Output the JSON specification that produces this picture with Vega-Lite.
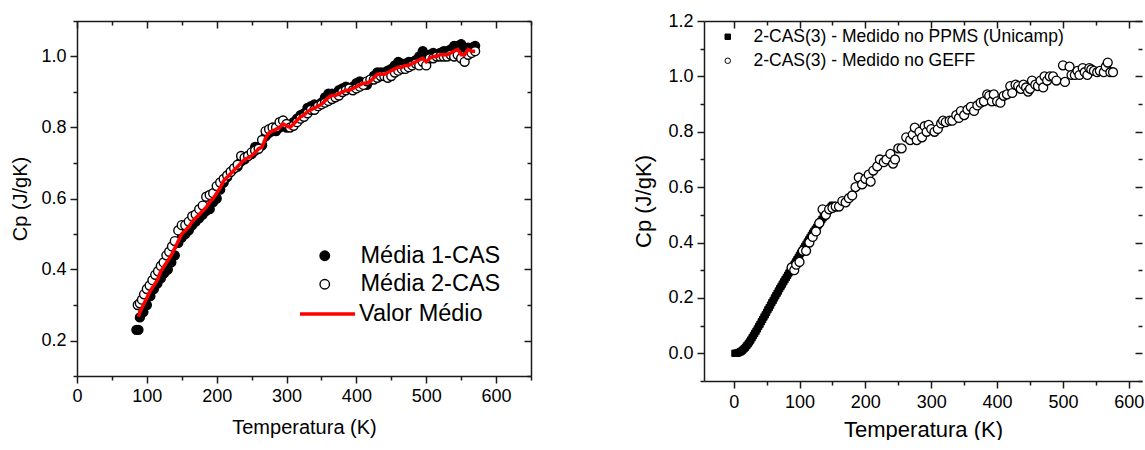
{
  "$schema": "https://vega.github.io/schema/vega-lite/v6.json",
  "padding": {"left": 10, "top": 12, "right": 0, "bottom": 0},
  "background": "white",
  "config": {
    "view": {"stroke": null},
    "font": "Liberation Sans",
    "axis": {"domainColor": "#1a1a1a", "tickColor": "#1a1a1a", "domainWidth": 1.5, "tickWidth": 1.5, "labelColor": "black", "titleColor": "black", "titleFontWeight": "normal", "grid": false, "labelFont": "Liberation Sans", "titleFont": "Liberation Sans", "labelFlush": false, "labelOverlap": false},
    "legend": {"labelFont": "Liberation Sans", "labelColor": "black"}
  },
  "datasets": {
    "m1": [
      {"s":"Média 1-CAS","T":85,"Cp":0.23},{"s":"Média 1-CAS","T":88,"Cp":0.23},{"s":"Média 1-CAS","T":90,"Cp":0.265},{"s":"Média 1-CAS","T":95,"Cp":0.28},{"s":"Média 1-CAS","T":100,"Cp":0.30},{"s":"Média 1-CAS","T":105,"Cp":0.325},{"s":"Média 1-CAS","T":110,"Cp":0.345},{"s":"Média 1-CAS","T":115,"Cp":0.36},{"s":"Média 1-CAS","T":120,"Cp":0.375},{"s":"Média 1-CAS","T":125,"Cp":0.39},{"s":"Média 1-CAS","T":130,"Cp":0.40},{"s":"Média 1-CAS","T":135,"Cp":0.42},{"s":"Média 1-CAS","T":140,"Cp":0.44},{"s":"Média 1-CAS","T":145,"Cp":0.475},{"s":"Média 1-CAS","T":150,"Cp":0.49},{"s":"Média 1-CAS","T":155,"Cp":0.50},{"s":"Média 1-CAS","T":160,"Cp":0.51},{"s":"Média 1-CAS","T":165,"Cp":0.525},{"s":"Média 1-CAS","T":170,"Cp":0.535},{"s":"Média 1-CAS","T":175,"Cp":0.545},{"s":"Média 1-CAS","T":180,"Cp":0.555},{"s":"Média 1-CAS","T":185,"Cp":0.565},{"s":"Média 1-CAS","T":190,"Cp":0.57},{"s":"Média 1-CAS","T":195,"Cp":0.59},{"s":"Média 1-CAS","T":200,"Cp":0.60},{"s":"Média 1-CAS","T":205,"Cp":0.625},{"s":"Média 1-CAS","T":210,"Cp":0.645},{"s":"Média 1-CAS","T":215,"Cp":0.66},{"s":"Média 1-CAS","T":220,"Cp":0.675},{"s":"Média 1-CAS","T":225,"Cp":0.685},{"s":"Média 1-CAS","T":230,"Cp":0.69},{"s":"Média 1-CAS","T":235,"Cp":0.705},{"s":"Média 1-CAS","T":240,"Cp":0.71},{"s":"Média 1-CAS","T":245,"Cp":0.72},{"s":"Média 1-CAS","T":250,"Cp":0.725},{"s":"Média 1-CAS","T":255,"Cp":0.745},{"s":"Média 1-CAS","T":260,"Cp":0.745},{"s":"Média 1-CAS","T":265,"Cp":0.75},{"s":"Média 1-CAS","T":270,"Cp":0.775},{"s":"Média 1-CAS","T":275,"Cp":0.785},{"s":"Média 1-CAS","T":280,"Cp":0.79},{"s":"Média 1-CAS","T":285,"Cp":0.79},{"s":"Média 1-CAS","T":290,"Cp":0.80},{"s":"Média 1-CAS","T":295,"Cp":0.805},{"s":"Média 1-CAS","T":300,"Cp":0.80},{"s":"Média 1-CAS","T":305,"Cp":0.805},{"s":"Média 1-CAS","T":310,"Cp":0.815},{"s":"Média 1-CAS","T":315,"Cp":0.825},{"s":"Média 1-CAS","T":320,"Cp":0.835},{"s":"Média 1-CAS","T":325,"Cp":0.84},{"s":"Média 1-CAS","T":330,"Cp":0.855},{"s":"Média 1-CAS","T":335,"Cp":0.86},{"s":"Média 1-CAS","T":340,"Cp":0.865},{"s":"Média 1-CAS","T":345,"Cp":0.86},{"s":"Média 1-CAS","T":350,"Cp":0.87},{"s":"Média 1-CAS","T":355,"Cp":0.885},{"s":"Média 1-CAS","T":360,"Cp":0.895},{"s":"Média 1-CAS","T":365,"Cp":0.895},{"s":"Média 1-CAS","T":370,"Cp":0.895},{"s":"Média 1-CAS","T":375,"Cp":0.905},{"s":"Média 1-CAS","T":380,"Cp":0.91},{"s":"Média 1-CAS","T":385,"Cp":0.915},{"s":"Média 1-CAS","T":390,"Cp":0.91},{"s":"Média 1-CAS","T":395,"Cp":0.915},{"s":"Média 1-CAS","T":400,"Cp":0.925},{"s":"Média 1-CAS","T":405,"Cp":0.93},{"s":"Média 1-CAS","T":410,"Cp":0.925},{"s":"Média 1-CAS","T":415,"Cp":0.92},{"s":"Média 1-CAS","T":420,"Cp":0.935},{"s":"Média 1-CAS","T":425,"Cp":0.945},{"s":"Média 1-CAS","T":430,"Cp":0.955},{"s":"Média 1-CAS","T":435,"Cp":0.955},{"s":"Média 1-CAS","T":440,"Cp":0.955},{"s":"Média 1-CAS","T":445,"Cp":0.96},{"s":"Média 1-CAS","T":450,"Cp":0.965},{"s":"Média 1-CAS","T":455,"Cp":0.975},{"s":"Média 1-CAS","T":460,"Cp":0.985},{"s":"Média 1-CAS","T":465,"Cp":0.98},{"s":"Média 1-CAS","T":470,"Cp":0.98},{"s":"Média 1-CAS","T":475,"Cp":0.985},{"s":"Média 1-CAS","T":480,"Cp":0.985},{"s":"Média 1-CAS","T":485,"Cp":0.99},{"s":"Média 1-CAS","T":490,"Cp":1.0},{"s":"Média 1-CAS","T":495,"Cp":1.015},{"s":"Média 1-CAS","T":500,"Cp":1.0},{"s":"Média 1-CAS","T":505,"Cp":1.005},{"s":"Média 1-CAS","T":510,"Cp":1.01},{"s":"Média 1-CAS","T":515,"Cp":1.005},{"s":"Média 1-CAS","T":520,"Cp":1.01},{"s":"Média 1-CAS","T":525,"Cp":1.015},{"s":"Média 1-CAS","T":530,"Cp":1.015},{"s":"Média 1-CAS","T":535,"Cp":1.02},{"s":"Média 1-CAS","T":540,"Cp":1.03},{"s":"Média 1-CAS","T":545,"Cp":1.03},{"s":"Média 1-CAS","T":550,"Cp":1.035},{"s":"Média 1-CAS","T":555,"Cp":1.025},{"s":"Média 1-CAS","T":560,"Cp":1.025},{"s":"Média 1-CAS","T":565,"Cp":1.025},{"s":"Média 1-CAS","T":570,"Cp":1.03}
    ],
    "m2": [
      {"s":"Média 2-CAS","T":87,"Cp":0.30},{"s":"Média 2-CAS","T":90,"Cp":0.305},{"s":"Média 2-CAS","T":93,"Cp":0.315},{"s":"Média 2-CAS","T":96,"Cp":0.33},{"s":"Média 2-CAS","T":100,"Cp":0.345},{"s":"Média 2-CAS","T":104,"Cp":0.355},{"s":"Média 2-CAS","T":108,"Cp":0.37},{"s":"Média 2-CAS","T":112,"Cp":0.385},{"s":"Média 2-CAS","T":116,"Cp":0.395},{"s":"Média 2-CAS","T":120,"Cp":0.41},{"s":"Média 2-CAS","T":124,"Cp":0.42},{"s":"Média 2-CAS","T":128,"Cp":0.44},{"s":"Média 2-CAS","T":132,"Cp":0.45},{"s":"Média 2-CAS","T":136,"Cp":0.465},{"s":"Média 2-CAS","T":140,"Cp":0.48},{"s":"Média 2-CAS","T":145,"Cp":0.51},{"s":"Média 2-CAS","T":150,"Cp":0.525},{"s":"Média 2-CAS","T":155,"Cp":0.525},{"s":"Média 2-CAS","T":160,"Cp":0.535},{"s":"Média 2-CAS","T":165,"Cp":0.55},{"s":"Média 2-CAS","T":170,"Cp":0.555},{"s":"Média 2-CAS","T":175,"Cp":0.57},{"s":"Média 2-CAS","T":180,"Cp":0.58},{"s":"Média 2-CAS","T":185,"Cp":0.605},{"s":"Média 2-CAS","T":190,"Cp":0.61},{"s":"Média 2-CAS","T":195,"Cp":0.615},{"s":"Média 2-CAS","T":200,"Cp":0.635},{"s":"Média 2-CAS","T":205,"Cp":0.645},{"s":"Média 2-CAS","T":210,"Cp":0.655},{"s":"Média 2-CAS","T":215,"Cp":0.665},{"s":"Média 2-CAS","T":220,"Cp":0.675},{"s":"Média 2-CAS","T":225,"Cp":0.685},{"s":"Média 2-CAS","T":230,"Cp":0.695},{"s":"Média 2-CAS","T":235,"Cp":0.72},{"s":"Média 2-CAS","T":240,"Cp":0.715},{"s":"Média 2-CAS","T":245,"Cp":0.72},{"s":"Média 2-CAS","T":250,"Cp":0.73},{"s":"Média 2-CAS","T":255,"Cp":0.735},{"s":"Média 2-CAS","T":260,"Cp":0.74},{"s":"Média 2-CAS","T":265,"Cp":0.765},{"s":"Média 2-CAS","T":270,"Cp":0.79},{"s":"Média 2-CAS","T":275,"Cp":0.795},{"s":"Média 2-CAS","T":280,"Cp":0.80},{"s":"Média 2-CAS","T":285,"Cp":0.80},{"s":"Média 2-CAS","T":290,"Cp":0.815},{"s":"Média 2-CAS","T":295,"Cp":0.82},{"s":"Média 2-CAS","T":300,"Cp":0.81},{"s":"Média 2-CAS","T":305,"Cp":0.80},{"s":"Média 2-CAS","T":310,"Cp":0.805},{"s":"Média 2-CAS","T":315,"Cp":0.815},{"s":"Média 2-CAS","T":320,"Cp":0.825},{"s":"Média 2-CAS","T":325,"Cp":0.83},{"s":"Média 2-CAS","T":330,"Cp":0.84},{"s":"Média 2-CAS","T":335,"Cp":0.85},{"s":"Média 2-CAS","T":340,"Cp":0.85},{"s":"Média 2-CAS","T":345,"Cp":0.86},{"s":"Média 2-CAS","T":350,"Cp":0.865},{"s":"Média 2-CAS","T":355,"Cp":0.87},{"s":"Média 2-CAS","T":360,"Cp":0.875},{"s":"Média 2-CAS","T":365,"Cp":0.88},{"s":"Média 2-CAS","T":370,"Cp":0.885},{"s":"Média 2-CAS","T":375,"Cp":0.89},{"s":"Média 2-CAS","T":380,"Cp":0.90},{"s":"Média 2-CAS","T":385,"Cp":0.905},{"s":"Média 2-CAS","T":390,"Cp":0.91},{"s":"Média 2-CAS","T":395,"Cp":0.905},{"s":"Média 2-CAS","T":400,"Cp":0.91},{"s":"Média 2-CAS","T":405,"Cp":0.915},{"s":"Média 2-CAS","T":410,"Cp":0.92},{"s":"Média 2-CAS","T":415,"Cp":0.93},{"s":"Média 2-CAS","T":420,"Cp":0.935},{"s":"Média 2-CAS","T":425,"Cp":0.935},{"s":"Média 2-CAS","T":430,"Cp":0.94},{"s":"Média 2-CAS","T":435,"Cp":0.945},{"s":"Média 2-CAS","T":440,"Cp":0.945},{"s":"Média 2-CAS","T":445,"Cp":0.94},{"s":"Média 2-CAS","T":450,"Cp":0.945},{"s":"Média 2-CAS","T":455,"Cp":0.955},{"s":"Média 2-CAS","T":460,"Cp":0.96},{"s":"Média 2-CAS","T":465,"Cp":0.965},{"s":"Média 2-CAS","T":470,"Cp":0.965},{"s":"Média 2-CAS","T":475,"Cp":0.97},{"s":"Média 2-CAS","T":480,"Cp":0.975},{"s":"Média 2-CAS","T":485,"Cp":0.98},{"s":"Média 2-CAS","T":490,"Cp":0.975},{"s":"Média 2-CAS","T":495,"Cp":0.985},{"s":"Média 2-CAS","T":500,"Cp":0.975},{"s":"Média 2-CAS","T":505,"Cp":0.995},{"s":"Média 2-CAS","T":510,"Cp":0.995},{"s":"Média 2-CAS","T":515,"Cp":1.0},{"s":"Média 2-CAS","T":520,"Cp":1.0},{"s":"Média 2-CAS","T":525,"Cp":1.0},{"s":"Média 2-CAS","T":530,"Cp":1.0},{"s":"Média 2-CAS","T":535,"Cp":1.005},{"s":"Média 2-CAS","T":540,"Cp":1.0},{"s":"Média 2-CAS","T":545,"Cp":1.005},{"s":"Média 2-CAS","T":550,"Cp":0.995},{"s":"Média 2-CAS","T":555,"Cp":0.985},{"s":"Média 2-CAS","T":560,"Cp":1.005},{"s":"Média 2-CAS","T":565,"Cp":1.01},{"s":"Média 2-CAS","T":570,"Cp":1.015}
    ],
    "vm": [
      {"s":"Valor Médio","T":88,"Cp":0.267},{"s":"Valor Médio","T":90,"Cp":0.28},{"s":"Valor Médio","T":95,"Cp":0.30},{"s":"Valor Médio","T":100,"Cp":0.32},{"s":"Valor Médio","T":105,"Cp":0.34},{"s":"Valor Médio","T":110,"Cp":0.355},{"s":"Valor Médio","T":115,"Cp":0.37},{"s":"Valor Médio","T":120,"Cp":0.395},{"s":"Valor Médio","T":125,"Cp":0.41},{"s":"Valor Médio","T":130,"Cp":0.425},{"s":"Valor Médio","T":135,"Cp":0.44},{"s":"Valor Médio","T":140,"Cp":0.46},{"s":"Valor Médio","T":145,"Cp":0.48},{"s":"Valor Médio","T":150,"Cp":0.50},{"s":"Valor Médio","T":155,"Cp":0.51},{"s":"Valor Médio","T":160,"Cp":0.52},{"s":"Valor Médio","T":165,"Cp":0.535},{"s":"Valor Médio","T":170,"Cp":0.545},{"s":"Valor Médio","T":175,"Cp":0.555},{"s":"Valor Médio","T":180,"Cp":0.565},{"s":"Valor Médio","T":185,"Cp":0.575},{"s":"Valor Médio","T":190,"Cp":0.59},{"s":"Valor Médio","T":195,"Cp":0.60},{"s":"Valor Médio","T":200,"Cp":0.615},{"s":"Valor Médio","T":205,"Cp":0.63},{"s":"Valor Médio","T":210,"Cp":0.65},{"s":"Valor Médio","T":215,"Cp":0.66},{"s":"Valor Médio","T":220,"Cp":0.67},{"s":"Valor Médio","T":225,"Cp":0.68},{"s":"Valor Médio","T":230,"Cp":0.69},{"s":"Valor Médio","T":235,"Cp":0.70},{"s":"Valor Médio","T":240,"Cp":0.71},{"s":"Valor Médio","T":245,"Cp":0.715},{"s":"Valor Médio","T":250,"Cp":0.72},{"s":"Valor Médio","T":255,"Cp":0.73},{"s":"Valor Médio","T":260,"Cp":0.74},{"s":"Valor Médio","T":265,"Cp":0.745},{"s":"Valor Médio","T":270,"Cp":0.77},{"s":"Valor Médio","T":275,"Cp":0.785},{"s":"Valor Médio","T":280,"Cp":0.79},{"s":"Valor Médio","T":285,"Cp":0.795},{"s":"Valor Médio","T":290,"Cp":0.80},{"s":"Valor Médio","T":295,"Cp":0.81},{"s":"Valor Médio","T":300,"Cp":0.805},{"s":"Valor Médio","T":305,"Cp":0.80},{"s":"Valor Médio","T":310,"Cp":0.81},{"s":"Valor Médio","T":315,"Cp":0.82},{"s":"Valor Médio","T":320,"Cp":0.83},{"s":"Valor Médio","T":325,"Cp":0.835},{"s":"Valor Médio","T":330,"Cp":0.845},{"s":"Valor Médio","T":335,"Cp":0.85},{"s":"Valor Médio","T":340,"Cp":0.855},{"s":"Valor Médio","T":345,"Cp":0.86},{"s":"Valor Médio","T":350,"Cp":0.865},{"s":"Valor Médio","T":355,"Cp":0.875},{"s":"Valor Médio","T":360,"Cp":0.885},{"s":"Valor Médio","T":365,"Cp":0.89},{"s":"Valor Médio","T":370,"Cp":0.89},{"s":"Valor Médio","T":375,"Cp":0.895},{"s":"Valor Médio","T":380,"Cp":0.90},{"s":"Valor Médio","T":385,"Cp":0.905},{"s":"Valor Médio","T":390,"Cp":0.905},{"s":"Valor Médio","T":395,"Cp":0.91},{"s":"Valor Médio","T":400,"Cp":0.915},{"s":"Valor Médio","T":405,"Cp":0.92},{"s":"Valor Médio","T":410,"Cp":0.925},{"s":"Valor Médio","T":415,"Cp":0.925},{"s":"Valor Médio","T":420,"Cp":0.93},{"s":"Valor Médio","T":425,"Cp":0.94},{"s":"Valor Médio","T":430,"Cp":0.95},{"s":"Valor Médio","T":435,"Cp":0.95},{"s":"Valor Médio","T":440,"Cp":0.95},{"s":"Valor Médio","T":445,"Cp":0.955},{"s":"Valor Médio","T":450,"Cp":0.96},{"s":"Valor Médio","T":455,"Cp":0.965},{"s":"Valor Médio","T":460,"Cp":0.97},{"s":"Valor Médio","T":465,"Cp":0.97},{"s":"Valor Médio","T":470,"Cp":0.975},{"s":"Valor Médio","T":475,"Cp":0.975},{"s":"Valor Médio","T":480,"Cp":0.98},{"s":"Valor Médio","T":485,"Cp":0.985},{"s":"Valor Médio","T":490,"Cp":0.99},{"s":"Valor Médio","T":495,"Cp":0.995},{"s":"Valor Médio","T":500,"Cp":0.985},{"s":"Valor Médio","T":505,"Cp":0.995},{"s":"Valor Médio","T":510,"Cp":1.0},{"s":"Valor Médio","T":515,"Cp":1.0},{"s":"Valor Médio","T":520,"Cp":1.005},{"s":"Valor Médio","T":525,"Cp":1.005},{"s":"Valor Médio","T":530,"Cp":1.005},{"s":"Valor Médio","T":535,"Cp":1.01},{"s":"Valor Médio","T":540,"Cp":1.015},{"s":"Valor Médio","T":545,"Cp":1.02},{"s":"Valor Médio","T":550,"Cp":1.005},{"s":"Valor Médio","T":555,"Cp":1.005},{"s":"Valor Médio","T":560,"Cp":1.02},{"s":"Valor Médio","T":565,"Cp":1.015},{"s":"Valor Médio","T":570,"Cp":1.015}
    ],
    "ppms": [
      {"s":"2-CAS(3) - Medido no PPMS (Unicamp)","T":2,"Cp":0.0},{"s":"2-CAS(3) - Medido no PPMS (Unicamp)","T":4,"Cp":0.0},{"s":"2-CAS(3) - Medido no PPMS (Unicamp)","T":6,"Cp":0.001},{"s":"2-CAS(3) - Medido no PPMS (Unicamp)","T":8,"Cp":0.003},{"s":"2-CAS(3) - Medido no PPMS (Unicamp)","T":10,"Cp":0.005},{"s":"2-CAS(3) - Medido no PPMS (Unicamp)","T":12,"Cp":0.008},{"s":"2-CAS(3) - Medido no PPMS (Unicamp)","T":14,"Cp":0.012},{"s":"2-CAS(3) - Medido no PPMS (Unicamp)","T":16,"Cp":0.017},{"s":"2-CAS(3) - Medido no PPMS (Unicamp)","T":18,"Cp":0.022},{"s":"2-CAS(3) - Medido no PPMS (Unicamp)","T":20,"Cp":0.028},{"s":"2-CAS(3) - Medido no PPMS (Unicamp)","T":22,"Cp":0.034},{"s":"2-CAS(3) - Medido no PPMS (Unicamp)","T":24,"Cp":0.041},{"s":"2-CAS(3) - Medido no PPMS (Unicamp)","T":26,"Cp":0.048},{"s":"2-CAS(3) - Medido no PPMS (Unicamp)","T":28,"Cp":0.056},{"s":"2-CAS(3) - Medido no PPMS (Unicamp)","T":30,"Cp":0.064},{"s":"2-CAS(3) - Medido no PPMS (Unicamp)","T":32,"Cp":0.072},{"s":"2-CAS(3) - Medido no PPMS (Unicamp)","T":34,"Cp":0.080},{"s":"2-CAS(3) - Medido no PPMS (Unicamp)","T":36,"Cp":0.088},{"s":"2-CAS(3) - Medido no PPMS (Unicamp)","T":38,"Cp":0.097},{"s":"2-CAS(3) - Medido no PPMS (Unicamp)","T":40,"Cp":0.105},{"s":"2-CAS(3) - Medido no PPMS (Unicamp)","T":42,"Cp":0.114},{"s":"2-CAS(3) - Medido no PPMS (Unicamp)","T":44,"Cp":0.122},{"s":"2-CAS(3) - Medido no PPMS (Unicamp)","T":46,"Cp":0.131},{"s":"2-CAS(3) - Medido no PPMS (Unicamp)","T":48,"Cp":0.139},{"s":"2-CAS(3) - Medido no PPMS (Unicamp)","T":50,"Cp":0.148},{"s":"2-CAS(3) - Medido no PPMS (Unicamp)","T":52,"Cp":0.157},{"s":"2-CAS(3) - Medido no PPMS (Unicamp)","T":54,"Cp":0.165},{"s":"2-CAS(3) - Medido no PPMS (Unicamp)","T":56,"Cp":0.174},{"s":"2-CAS(3) - Medido no PPMS (Unicamp)","T":58,"Cp":0.183},{"s":"2-CAS(3) - Medido no PPMS (Unicamp)","T":60,"Cp":0.191},{"s":"2-CAS(3) - Medido no PPMS (Unicamp)","T":62,"Cp":0.200},{"s":"2-CAS(3) - Medido no PPMS (Unicamp)","T":64,"Cp":0.208},{"s":"2-CAS(3) - Medido no PPMS (Unicamp)","T":66,"Cp":0.217},{"s":"2-CAS(3) - Medido no PPMS (Unicamp)","T":68,"Cp":0.225},{"s":"2-CAS(3) - Medido no PPMS (Unicamp)","T":70,"Cp":0.234},{"s":"2-CAS(3) - Medido no PPMS (Unicamp)","T":72,"Cp":0.242},{"s":"2-CAS(3) - Medido no PPMS (Unicamp)","T":74,"Cp":0.250},{"s":"2-CAS(3) - Medido no PPMS (Unicamp)","T":76,"Cp":0.258},{"s":"2-CAS(3) - Medido no PPMS (Unicamp)","T":78,"Cp":0.266},{"s":"2-CAS(3) - Medido no PPMS (Unicamp)","T":80,"Cp":0.274},{"s":"2-CAS(3) - Medido no PPMS (Unicamp)","T":82,"Cp":0.282},{"s":"2-CAS(3) - Medido no PPMS (Unicamp)","T":84,"Cp":0.290},{"s":"2-CAS(3) - Medido no PPMS (Unicamp)","T":86,"Cp":0.298},{"s":"2-CAS(3) - Medido no PPMS (Unicamp)","T":88,"Cp":0.306},{"s":"2-CAS(3) - Medido no PPMS (Unicamp)","T":90,"Cp":0.314},{"s":"2-CAS(3) - Medido no PPMS (Unicamp)","T":92,"Cp":0.322},{"s":"2-CAS(3) - Medido no PPMS (Unicamp)","T":94,"Cp":0.330},{"s":"2-CAS(3) - Medido no PPMS (Unicamp)","T":96,"Cp":0.338},{"s":"2-CAS(3) - Medido no PPMS (Unicamp)","T":98,"Cp":0.346},{"s":"2-CAS(3) - Medido no PPMS (Unicamp)","T":100,"Cp":0.354},{"s":"2-CAS(3) - Medido no PPMS (Unicamp)","T":102,"Cp":0.362},{"s":"2-CAS(3) - Medido no PPMS (Unicamp)","T":104,"Cp":0.370},{"s":"2-CAS(3) - Medido no PPMS (Unicamp)","T":106,"Cp":0.378},{"s":"2-CAS(3) - Medido no PPMS (Unicamp)","T":108,"Cp":0.386},{"s":"2-CAS(3) - Medido no PPMS (Unicamp)","T":110,"Cp":0.394},{"s":"2-CAS(3) - Medido no PPMS (Unicamp)","T":112,"Cp":0.402},{"s":"2-CAS(3) - Medido no PPMS (Unicamp)","T":114,"Cp":0.410},{"s":"2-CAS(3) - Medido no PPMS (Unicamp)","T":116,"Cp":0.418},{"s":"2-CAS(3) - Medido no PPMS (Unicamp)","T":118,"Cp":0.426},{"s":"2-CAS(3) - Medido no PPMS (Unicamp)","T":120,"Cp":0.434},{"s":"2-CAS(3) - Medido no PPMS (Unicamp)","T":122,"Cp":0.441},{"s":"2-CAS(3) - Medido no PPMS (Unicamp)","T":124,"Cp":0.448},{"s":"2-CAS(3) - Medido no PPMS (Unicamp)","T":126,"Cp":0.455},{"s":"2-CAS(3) - Medido no PPMS (Unicamp)","T":128,"Cp":0.462},{"s":"2-CAS(3) - Medido no PPMS (Unicamp)","T":130,"Cp":0.469},{"s":"2-CAS(3) - Medido no PPMS (Unicamp)","T":132,"Cp":0.476},{"s":"2-CAS(3) - Medido no PPMS (Unicamp)","T":134,"Cp":0.483},{"s":"2-CAS(3) - Medido no PPMS (Unicamp)","T":136,"Cp":0.490},{"s":"2-CAS(3) - Medido no PPMS (Unicamp)","T":138,"Cp":0.497},{"s":"2-CAS(3) - Medido no PPMS (Unicamp)","T":140,"Cp":0.504},{"s":"2-CAS(3) - Medido no PPMS (Unicamp)","T":142,"Cp":0.511},{"s":"2-CAS(3) - Medido no PPMS (Unicamp)","T":144,"Cp":0.518},{"s":"2-CAS(3) - Medido no PPMS (Unicamp)","T":146,"Cp":0.524},{"s":"2-CAS(3) - Medido no PPMS (Unicamp)","T":148,"Cp":0.530},{"s":"2-CAS(3) - Medido no PPMS (Unicamp)","T":150,"Cp":0.535}
    ],
    "geff": [
      {"s":"2-CAS(3) - Medido no GEFF","T":88,"Cp":0.31},{"s":"2-CAS(3) - Medido no GEFF","T":92,"Cp":0.30},{"s":"2-CAS(3) - Medido no GEFF","T":95,"Cp":0.32},{"s":"2-CAS(3) - Medido no GEFF","T":100,"Cp":0.33},{"s":"2-CAS(3) - Medido no GEFF","T":105,"Cp":0.37},{"s":"2-CAS(3) - Medido no GEFF","T":110,"Cp":0.37},{"s":"2-CAS(3) - Medido no GEFF","T":115,"Cp":0.40},{"s":"2-CAS(3) - Medido no GEFF","T":120,"Cp":0.42},{"s":"2-CAS(3) - Medido no GEFF","T":125,"Cp":0.44},{"s":"2-CAS(3) - Medido no GEFF","T":130,"Cp":0.47},{"s":"2-CAS(3) - Medido no GEFF","T":135,"Cp":0.52},{"s":"2-CAS(3) - Medido no GEFF","T":140,"Cp":0.50},{"s":"2-CAS(3) - Medido no GEFF","T":145,"Cp":0.52},{"s":"2-CAS(3) - Medido no GEFF","T":150,"Cp":0.525},{"s":"2-CAS(3) - Medido no GEFF","T":155,"Cp":0.53},{"s":"2-CAS(3) - Medido no GEFF","T":160,"Cp":0.53},{"s":"2-CAS(3) - Medido no GEFF","T":165,"Cp":0.55},{"s":"2-CAS(3) - Medido no GEFF","T":170,"Cp":0.545},{"s":"2-CAS(3) - Medido no GEFF","T":175,"Cp":0.56},{"s":"2-CAS(3) - Medido no GEFF","T":180,"Cp":0.57},{"s":"2-CAS(3) - Medido no GEFF","T":185,"Cp":0.60},{"s":"2-CAS(3) - Medido no GEFF","T":190,"Cp":0.635},{"s":"2-CAS(3) - Medido no GEFF","T":195,"Cp":0.61},{"s":"2-CAS(3) - Medido no GEFF","T":200,"Cp":0.63},{"s":"2-CAS(3) - Medido no GEFF","T":205,"Cp":0.645},{"s":"2-CAS(3) - Medido no GEFF","T":208,"Cp":0.62},{"s":"2-CAS(3) - Medido no GEFF","T":212,"Cp":0.66},{"s":"2-CAS(3) - Medido no GEFF","T":218,"Cp":0.675},{"s":"2-CAS(3) - Medido no GEFF","T":222,"Cp":0.70},{"s":"2-CAS(3) - Medido no GEFF","T":228,"Cp":0.69},{"s":"2-CAS(3) - Medido no GEFF","T":232,"Cp":0.70},{"s":"2-CAS(3) - Medido no GEFF","T":238,"Cp":0.72},{"s":"2-CAS(3) - Medido no GEFF","T":242,"Cp":0.685},{"s":"2-CAS(3) - Medido no GEFF","T":245,"Cp":0.70},{"s":"2-CAS(3) - Medido no GEFF","T":250,"Cp":0.74},{"s":"2-CAS(3) - Medido no GEFF","T":255,"Cp":0.74},{"s":"2-CAS(3) - Medido no GEFF","T":262,"Cp":0.78},{"s":"2-CAS(3) - Medido no GEFF","T":268,"Cp":0.77},{"s":"2-CAS(3) - Medido no GEFF","T":272,"Cp":0.79},{"s":"2-CAS(3) - Medido no GEFF","T":275,"Cp":0.815},{"s":"2-CAS(3) - Medido no GEFF","T":278,"Cp":0.77},{"s":"2-CAS(3) - Medido no GEFF","T":282,"Cp":0.80},{"s":"2-CAS(3) - Medido no GEFF","T":286,"Cp":0.78},{"s":"2-CAS(3) - Medido no GEFF","T":290,"Cp":0.82},{"s":"2-CAS(3) - Medido no GEFF","T":293,"Cp":0.80},{"s":"2-CAS(3) - Medido no GEFF","T":296,"Cp":0.825},{"s":"2-CAS(3) - Medido no GEFF","T":300,"Cp":0.81},{"s":"2-CAS(3) - Medido no GEFF","T":305,"Cp":0.80},{"s":"2-CAS(3) - Medido no GEFF","T":310,"Cp":0.81},{"s":"2-CAS(3) - Medido no GEFF","T":315,"Cp":0.83},{"s":"2-CAS(3) - Medido no GEFF","T":318,"Cp":0.84},{"s":"2-CAS(3) - Medido no GEFF","T":322,"Cp":0.835},{"s":"2-CAS(3) - Medido no GEFF","T":328,"Cp":0.84},{"s":"2-CAS(3) - Medido no GEFF","T":332,"Cp":0.84},{"s":"2-CAS(3) - Medido no GEFF","T":338,"Cp":0.86},{"s":"2-CAS(3) - Medido no GEFF","T":342,"Cp":0.85},{"s":"2-CAS(3) - Medido no GEFF","T":345,"Cp":0.875},{"s":"2-CAS(3) - Medido no GEFF","T":350,"Cp":0.86},{"s":"2-CAS(3) - Medido no GEFF","T":355,"Cp":0.88},{"s":"2-CAS(3) - Medido no GEFF","T":360,"Cp":0.89},{"s":"2-CAS(3) - Medido no GEFF","T":365,"Cp":0.875},{"s":"2-CAS(3) - Medido no GEFF","T":370,"Cp":0.895},{"s":"2-CAS(3) - Medido no GEFF","T":375,"Cp":0.905},{"s":"2-CAS(3) - Medido no GEFF","T":380,"Cp":0.91},{"s":"2-CAS(3) - Medido no GEFF","T":385,"Cp":0.935},{"s":"2-CAS(3) - Medido no GEFF","T":388,"Cp":0.93},{"s":"2-CAS(3) - Medido no GEFF","T":392,"Cp":0.91},{"s":"2-CAS(3) - Medido no GEFF","T":395,"Cp":0.935},{"s":"2-CAS(3) - Medido no GEFF","T":400,"Cp":0.91},{"s":"2-CAS(3) - Medido no GEFF","T":405,"Cp":0.905},{"s":"2-CAS(3) - Medido no GEFF","T":410,"Cp":0.93},{"s":"2-CAS(3) - Medido no GEFF","T":415,"Cp":0.935},{"s":"2-CAS(3) - Medido no GEFF","T":420,"Cp":0.965},{"s":"2-CAS(3) - Medido no GEFF","T":423,"Cp":0.94},{"s":"2-CAS(3) - Medido no GEFF","T":428,"Cp":0.97},{"s":"2-CAS(3) - Medido no GEFF","T":432,"Cp":0.965},{"s":"2-CAS(3) - Medido no GEFF","T":436,"Cp":0.955},{"s":"2-CAS(3) - Medido no GEFF","T":440,"Cp":0.97},{"s":"2-CAS(3) - Medido no GEFF","T":444,"Cp":0.96},{"s":"2-CAS(3) - Medido no GEFF","T":447,"Cp":0.945},{"s":"2-CAS(3) - Medido no GEFF","T":450,"Cp":0.955},{"s":"2-CAS(3) - Medido no GEFF","T":453,"Cp":0.985},{"s":"2-CAS(3) - Medido no GEFF","T":458,"Cp":0.97},{"s":"2-CAS(3) - Medido no GEFF","T":462,"Cp":0.965},{"s":"2-CAS(3) - Medido no GEFF","T":466,"Cp":0.985},{"s":"2-CAS(3) - Medido no GEFF","T":470,"Cp":0.96},{"s":"2-CAS(3) - Medido no GEFF","T":472,"Cp":1.0},{"s":"2-CAS(3) - Medido no GEFF","T":476,"Cp":0.985},{"s":"2-CAS(3) - Medido no GEFF","T":480,"Cp":1.0},{"s":"2-CAS(3) - Medido no GEFF","T":485,"Cp":1.0},{"s":"2-CAS(3) - Medido no GEFF","T":490,"Cp":0.985},{"s":"2-CAS(3) - Medido no GEFF","T":500,"Cp":1.04},{"s":"2-CAS(3) - Medido no GEFF","T":503,"Cp":0.98},{"s":"2-CAS(3) - Medido no GEFF","T":510,"Cp":1.035},{"s":"2-CAS(3) - Medido no GEFF","T":513,"Cp":1.005},{"s":"2-CAS(3) - Medido no GEFF","T":518,"Cp":1.005},{"s":"2-CAS(3) - Medido no GEFF","T":522,"Cp":1.02},{"s":"2-CAS(3) - Medido no GEFF","T":525,"Cp":1.005},{"s":"2-CAS(3) - Medido no GEFF","T":530,"Cp":1.03},{"s":"2-CAS(3) - Medido no GEFF","T":533,"Cp":1.015},{"s":"2-CAS(3) - Medido no GEFF","T":537,"Cp":1.005},{"s":"2-CAS(3) - Medido no GEFF","T":540,"Cp":1.03},{"s":"2-CAS(3) - Medido no GEFF","T":543,"Cp":1.025},{"s":"2-CAS(3) - Medido no GEFF","T":547,"Cp":1.02},{"s":"2-CAS(3) - Medido no GEFF","T":552,"Cp":1.015},{"s":"2-CAS(3) - Medido no GEFF","T":556,"Cp":1.02},{"s":"2-CAS(3) - Medido no GEFF","T":562,"Cp":1.015},{"s":"2-CAS(3) - Medido no GEFF","T":565,"Cp":1.035},{"s":"2-CAS(3) - Medido no GEFF","T":568,"Cp":1.05},{"s":"2-CAS(3) - Medido no GEFF","T":572,"Cp":1.015},{"s":"2-CAS(3) - Medido no GEFF","T":576,"Cp":1.015}
    ]
  },
  "bounds": "flush",
  "spacing": 173,
  "resolve": {
    "scale": {"stroke": "independent", "fill": "independent", "shape": "independent", "strokeDash": "independent"},
    "legend": {"stroke": "independent", "fill": "independent", "shape": "independent", "strokeDash": "independent"}
  },
  "hconcat": [
    {
      "width": 454,
      "height": 355,
      "resolve": {"axis": {"x": "independent", "y": "independent"}},
      "layer": [
        {
          "data": {"name": "m1"},
          "mark": {"type": "point", "filled": true, "opacity": 1, "size": 80, "strokeWidth": 1.4},
          "encoding": {
            "x": {"field": "T", "type": "quantitative", "scale": {"domain": [0, 650], "nice": false, "zero": false},
              "axis": {"orient": "bottom", "values": [0,50,100,150,200,250,300,350,400,450,500,550,600,650],
                "labelExpr": "datum.value % 100 === 0 ? datum.label : ''",
                "tickSize": {"condition": {"test": "datum.value % 100 === 0", "value": 7}, "value": 4},
                "labelFontSize": 18, "labelPadding": 4, "title": "Temperatura (K)", "titleFontSize": 20, "titlePadding": 12}},
            "y": {"field": "Cp", "type": "quantitative", "scale": {"domain": [0.1, 1.1], "nice": false, "zero": false},
              "axis": {"orient": "left", "values": [0.1,0.2,0.3,0.4,0.5,0.6,0.7,0.8,0.9,1.0,1.1],
                "labelExpr": "round(datum.value*10) % 2 === 0 ? format(datum.value, '.1f') : ''",
                "tickSize": {"condition": {"test": "round(datum.value*10) % 2 === 0", "value": 7}, "value": 4},
                "labelFontSize": 18, "labelPadding": 4, "title": "Cp (J/gK)", "titleFontSize": 20, "titlePadding": 10}},
            "stroke": {"field": "s", "type": "nominal", "scale": {"domain": ["Média 1-CAS", "Média 2-CAS"], "range": ["black", "black"]},
              "legend": {"title": null, "orient": "none", "legendX": 236, "legendY": 223, "padding": 0, "labelFontSize": 23.5, "labelOffset": 24, "rowPadding": 3.5, "labelLimit": 400, "symbolOpacity": 1, "symbolSize": 90, "symbolStrokeWidth": 1.4}},
            "fill": {"field": "s", "type": "nominal", "scale": {"domain": ["Média 1-CAS", "Média 2-CAS"], "range": ["black", "white"]}},
            "shape": {"field": "s", "type": "nominal", "scale": {"domain": ["Média 1-CAS", "Média 2-CAS"], "range": ["circle", "circle"]}}
          }
        },
        {
          "data": {"name": "m2"},
          "mark": {"type": "point", "filled": true, "opacity": 1, "size": 80, "strokeWidth": 1.4},
          "encoding": {
            "x": {"field": "T", "type": "quantitative",
              "axis": {"orient": "top", "values": [0,50,100,150,200,250,300,350,400,450,500,550,600,650], "labels": false, "title": null,
                "tickSize": {"condition": {"test": "datum.value % 100 === 0", "value": -7}, "value": -4}}},
            "y": {"field": "Cp", "type": "quantitative",
              "axis": {"orient": "right", "values": [0.1,0.2,0.3,0.4,0.5,0.6,0.7,0.8,0.9,1.0,1.1], "labels": false, "title": null,
                "tickSize": {"condition": {"test": "round(datum.value*10) % 2 === 0", "value": -7}, "value": -4}}},
            "stroke": {"field": "s", "type": "nominal"},
            "fill": {"field": "s", "type": "nominal"},
            "shape": {"field": "s", "type": "nominal"}
          }
        },
        {
          "data": {"name": "vm"},
          "mark": {"type": "line", "strokeWidth": 3.5, "stroke": "#ff0000"},
          "encoding": {
            "x": {"field": "T", "type": "quantitative", "axis": null},
            "y": {"field": "Cp", "type": "quantitative", "axis": null},
            "strokeDash": {"field": "s", "type": "nominal", "scale": {"domain": ["Valor Médio"], "range": [[1, 0]]},
              "legend": {"title": null, "orient": "none", "legendX": 221, "legendY": 281, "padding": 0, "labelFontSize": 23.5, "labelOffset": 2, "labelLimit": 400, "symbolSize": 3025, "clipHeight": 24, "symbolStrokeColor": "#ff0000", "symbolStrokeWidth": 3.5, "symbolOpacity": 1}}
          }
        }
      ]
    },
    {
      "width": 438,
      "height": 360,
      "resolve": {"axis": {"x": "independent", "y": "independent"}},
      "layer": [
        {
          "data": {"name": "ppms"},
          "mark": {"type": "point", "filled": true, "opacity": 1, "size": 40, "strokeWidth": 1},
          "encoding": {
            "x": {"field": "T", "type": "quantitative", "scale": {"domain": [-45, 620], "nice": false, "zero": false},
              "axis": {"orient": "bottom", "values": [0,50,100,150,200,250,300,350,400,450,500,550,600],
                "labelExpr": "datum.value % 100 === 0 ? datum.label : ''",
                "tickSize": {"condition": {"test": "datum.value % 100 === 0", "value": 7}, "value": 4},
                "labelFontSize": 18, "labelPadding": 5, "title": "Temperatura (K)", "titleFontSize": 22, "titlePadding": 8}},
            "y": {"field": "Cp", "type": "quantitative", "scale": {"domain": [-0.1, 1.2], "nice": false, "zero": false},
              "axis": {"orient": "left", "values": [-0.1,0.0,0.1,0.2,0.3,0.4,0.5,0.6,0.7,0.8,0.9,1.0,1.1,1.2],
                "labelExpr": "round(datum.value*10) % 2 === 0 ? format(datum.value, '.1f') : ''",
                "tickSize": {"condition": {"test": "round(datum.value*10) % 2 === 0", "value": 7}, "value": 4},
                "labelFontSize": 18, "labelPadding": 4, "title": "Cp (J/gK)", "titleFontSize": 22, "titlePadding": 12}},
            "stroke": {"field": "s", "type": "nominal", "scale": {"domain": ["2-CAS(3) - Medido no PPMS (Unicamp)", "2-CAS(3) - Medido no GEFF"], "range": ["black", "black"]},
              "legend": {"title": null, "orient": "none", "legendX": 15, "legendY": 7, "padding": 0, "labelFontSize": 17.5, "labelOffset": 17, "rowPadding": 5, "labelLimit": 500, "symbolSize": 30, "symbolStrokeWidth": 1, "symbolOpacity": 1}},
            "fill": {"field": "s", "type": "nominal", "scale": {"domain": ["2-CAS(3) - Medido no PPMS (Unicamp)", "2-CAS(3) - Medido no GEFF"], "range": ["black", "white"]}},
            "shape": {"field": "s", "type": "nominal", "scale": {"domain": ["2-CAS(3) - Medido no PPMS (Unicamp)", "2-CAS(3) - Medido no GEFF"], "range": ["square", "circle"]}}
          }
        },
        {
          "data": {"name": "geff"},
          "mark": {"type": "point", "filled": true, "opacity": 1, "size": 80, "strokeWidth": 1.3},
          "encoding": {
            "x": {"field": "T", "type": "quantitative",
              "axis": {"orient": "top", "values": [0,50,100,150,200,250,300,350,400,450,500,550,600], "labels": false, "title": null,
                "tickSize": {"condition": {"test": "datum.value % 100 === 0", "value": -7}, "value": -4}}},
            "y": {"field": "Cp", "type": "quantitative",
              "axis": {"orient": "right", "domain": false, "values": [-0.1,0.0,0.1,0.2,0.3,0.4,0.5,0.6,0.7,0.8,0.9,1.0,1.1,1.2], "labels": false, "title": null,
                "tickSize": {"condition": {"test": "round(datum.value*10) % 2 === 0", "value": -7}, "value": -4}}},
            "stroke": {"field": "s", "type": "nominal"},
            "fill": {"field": "s", "type": "nominal"},
            "shape": {"field": "s", "type": "nominal"}
          }
        }
      ]
    }
  ]
}
